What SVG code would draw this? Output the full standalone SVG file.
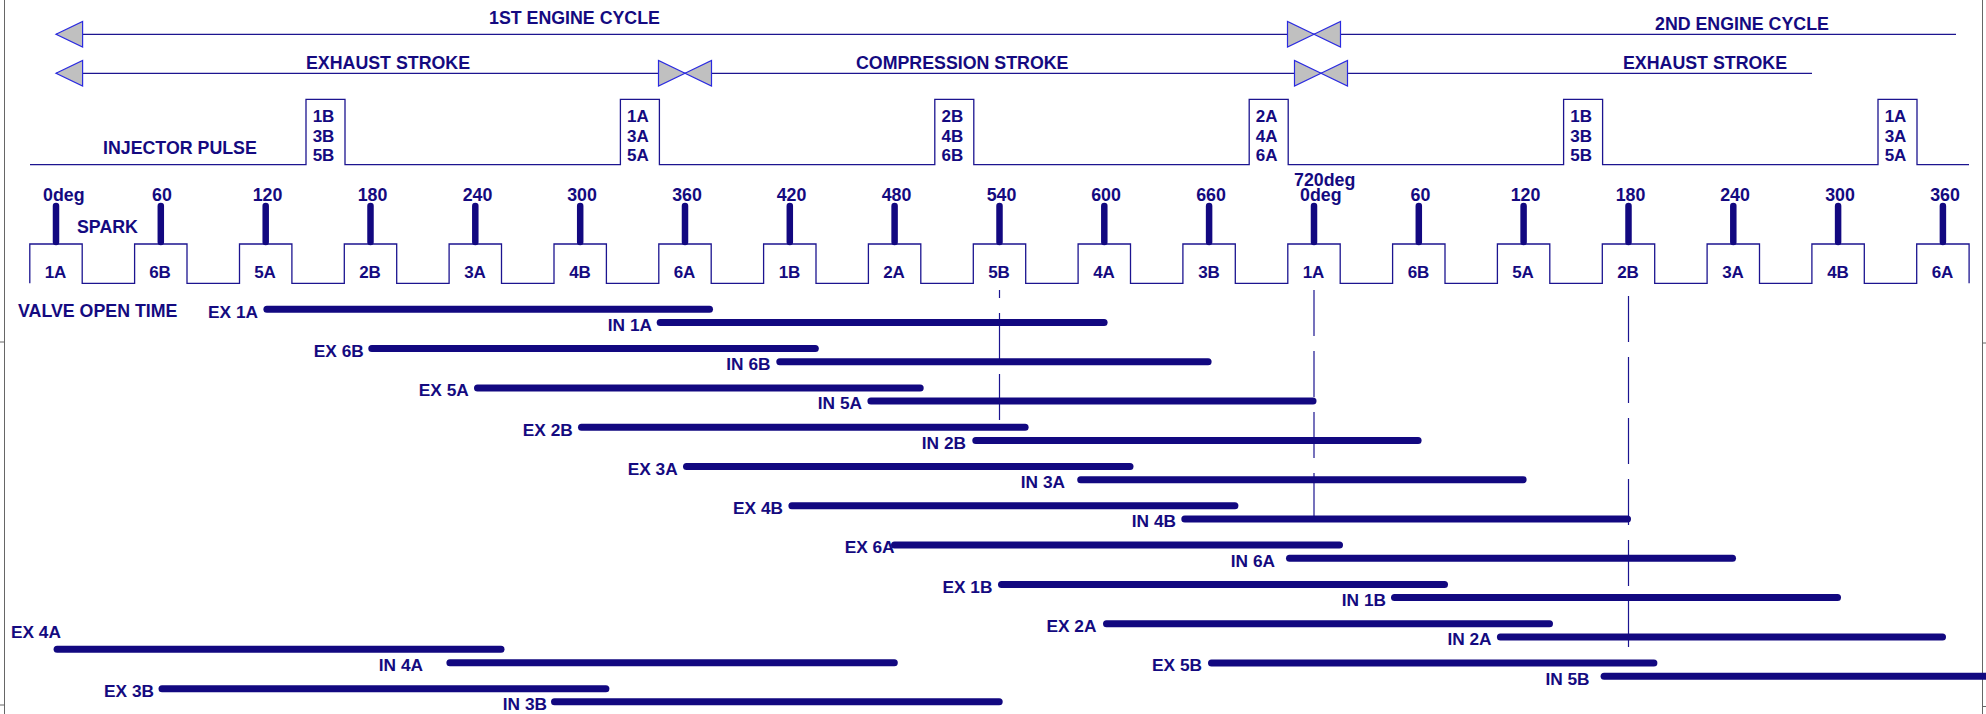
<svg xmlns="http://www.w3.org/2000/svg" width="1986" height="714" viewBox="0 0 1986 714">
<style>
text{font-family:"Liberation Sans",Arial,sans-serif;font-weight:bold;fill:#140a80}
.h{font-size:17.8px}
.s{font-size:17px}
.v{font-size:17.3px}
.m{text-anchor:middle}
.e{text-anchor:end}
.thin{fill:none;stroke:#1c1490;stroke-width:1.3}
.head{fill:#c0c0c0;stroke:#2a2ae0;stroke-width:1.2;stroke-linejoin:miter}
.spk{stroke:#120880;stroke-width:6.5;stroke-linecap:round}
.bar{stroke:#120880;stroke-width:7;stroke-linecap:round}
.ref{stroke:#1c1490;stroke-width:1.2;stroke-dasharray:46 15;fill:none}
.brd{stroke:#666;stroke-width:1;fill:none}
</style>
<rect width="1986" height="714" fill="#fff"/>
<g id="border">
<path class="brd" d="M4.5,0V714M0,342H4.5M0,705H4.5M1982.5,0V714M1982.5,343H1986M1982.5,706.5H1986"/>
</g>
<g id="cycles">
<line class="thin" x1="56" y1="34.3" x2="1956" y2="34.3"/>
<line class="thin" x1="56" y1="73.3" x2="1812" y2="73.3"/>
<polygon class="head" points="56,34.3 82.6,21.5 82.6,47.1"/>
<polygon class="head" points="1287.5,21.5 1287.5,47.1 1314,34.3"/>
<polygon class="head" points="1314,34.3 1340.5,21.5 1340.5,47.1"/>
<polygon class="head" points="56,73.3 82.6,60.5 82.6,86.1"/>
<polygon class="head" points="658.5,60.5 658.5,86.1 685,73.3"/>
<polygon class="head" points="685,73.3 711.5,60.5 711.5,86.1"/>
<polygon class="head" points="1294.5,60.5 1294.5,86.1 1321,73.3"/>
<polygon class="head" points="1321,73.3 1347.5,60.5 1347.5,86.1"/>
<text class="h" x="489" y="24">1ST ENGINE CYCLE</text>
<text class="h" x="1655" y="30">2ND ENGINE CYCLE</text>
<text class="h" x="306" y="69.3">EXHAUST STROKE</text>
<text class="h" x="856" y="69.3">COMPRESSION STROKE</text>
<text class="h" x="1623" y="69.3">EXHAUST STROKE</text>
</g>
<g id="injector">
<path class="thin" d="M30,164.7H306V99.3H345V164.7H620.4V99.3H659.4V164.7H934.8V99.3H973.8V164.7H1249.2V99.3H1288.2V164.7H1563.6V99.3H1602.6V164.7H1878V99.3H1917V164.7H1969"/>
<text class="h" x="103" y="154.3">INJECTOR PULSE</text>
<g>
<text class="s m" x="323.5" y="122">1B</text><text class="s m" x="323.5" y="141.5">3B</text><text class="s m" x="323.5" y="161">5B</text>
<text class="s m" x="637.9" y="122">1A</text><text class="s m" x="637.9" y="141.5">3A</text><text class="s m" x="637.9" y="161">5A</text>
<text class="s m" x="952.3" y="122">2B</text><text class="s m" x="952.3" y="141.5">4B</text><text class="s m" x="952.3" y="161">6B</text>
<text class="s m" x="1266.7" y="122">2A</text><text class="s m" x="1266.7" y="141.5">4A</text><text class="s m" x="1266.7" y="161">6A</text>
<text class="s m" x="1581.1" y="122">1B</text><text class="s m" x="1581.1" y="141.5">3B</text><text class="s m" x="1581.1" y="161">5B</text>
<text class="s m" x="1895.5" y="122">1A</text><text class="s m" x="1895.5" y="141.5">3A</text><text class="s m" x="1895.5" y="161">5A</text>
</g>
</g>
<g id="spark">
<path class="thin" d="M29.8,283.3V244H82.2V283.3H134.6V244H187V283.3H239.5V244H291.9V283.3H344.3V244H396.7V283.3H449.1V244H501.5V283.3H554V244H606.4V283.3H658.8V244H711.2V283.3H763.6V244H816V283.3H868.4V244H920.8V283.3H973.3V244H1025.7V283.3H1078.1V244H1130.5V283.3H1182.9V244H1235.3V283.3H1287.8V244H1340.2V283.3H1392.6V244H1445V283.3H1497.4V244H1549.8V283.3H1602.3V244H1654.7V283.3H1707.1V244H1759.5V283.3H1811.9V244H1864.3V283.3H1916.7V244H1969.1V283.3"/>
<g class="spk">
<line x1="56" y1="206" x2="56" y2="242"/><line x1="160.8" y1="206" x2="160.8" y2="242"/><line x1="265.7" y1="206" x2="265.7" y2="242"/><line x1="370.5" y1="206" x2="370.5" y2="242"/><line x1="475.3" y1="206" x2="475.3" y2="242"/><line x1="580.2" y1="206" x2="580.2" y2="242"/><line x1="685" y1="206" x2="685" y2="242"/><line x1="789.8" y1="206" x2="789.8" y2="242"/><line x1="894.6" y1="206" x2="894.6" y2="242"/><line x1="999.5" y1="206" x2="999.5" y2="242"/><line x1="1104.3" y1="206" x2="1104.3" y2="242"/><line x1="1209.1" y1="206" x2="1209.1" y2="242"/><line x1="1314" y1="206" x2="1314" y2="242"/><line x1="1418.8" y1="206" x2="1418.8" y2="242"/><line x1="1523.6" y1="206" x2="1523.6" y2="242"/><line x1="1628.5" y1="206" x2="1628.5" y2="242"/><line x1="1733.3" y1="206" x2="1733.3" y2="242"/><line x1="1838.1" y1="206" x2="1838.1" y2="242"/><line x1="1942.9" y1="206" x2="1942.9" y2="242"/>
</g>
<text class="h" x="43" y="200.7">0deg</text>
<text class="h m" x="162" y="200.7">60</text>
<text class="h m" x="267.5" y="200.7">120</text>
<text class="h m" x="372.5" y="200.7">180</text>
<text class="h m" x="477.5" y="200.7">240</text>
<text class="h m" x="582" y="200.7">300</text>
<text class="h m" x="687" y="200.7">360</text>
<text class="h m" x="791.5" y="200.7">420</text>
<text class="h m" x="896.5" y="200.7">480</text>
<text class="h m" x="1001.5" y="200.7">540</text>
<text class="h m" x="1106" y="200.7">600</text>
<text class="h m" x="1211" y="200.7">660</text>
<text class="h" x="1294" y="186">720deg</text>
<text class="h" x="1300" y="200.7">0deg</text>
<text class="h m" x="1420.5" y="200.7">60</text>
<text class="h m" x="1525.5" y="200.7">120</text>
<text class="h m" x="1630.5" y="200.7">180</text>
<text class="h m" x="1735" y="200.7">240</text>
<text class="h m" x="1840" y="200.7">300</text>
<text class="h m" x="1945" y="200.7">360</text>
<text class="h" x="77" y="233.3">SPARK</text>
<text class="s m" x="55.5" y="278.3">1A</text><text class="s m" x="160" y="278.3">6B</text><text class="s m" x="265" y="278.3">5A</text><text class="s m" x="370" y="278.3">2B</text><text class="s m" x="475" y="278.3">3A</text><text class="s m" x="580" y="278.3">4B</text><text class="s m" x="684.5" y="278.3">6A</text><text class="s m" x="789.5" y="278.3">1B</text><text class="s m" x="894" y="278.3">2A</text><text class="s m" x="999" y="278.3">5B</text><text class="s m" x="1104" y="278.3">4A</text><text class="s m" x="1209" y="278.3">3B</text><text class="s m" x="1313.5" y="278.3">1A</text><text class="s m" x="1418.5" y="278.3">6B</text><text class="s m" x="1523" y="278.3">5A</text><text class="s m" x="1628" y="278.3">2B</text><text class="s m" x="1733" y="278.3">3A</text><text class="s m" x="1838" y="278.3">4B</text><text class="s m" x="1942.5" y="278.3">6A</text>
</g>
<g id="reference-lines">
<line class="ref" x1="999.5" y1="420" x2="999.5" y2="290"/>
<line class="ref" x1="1314" y1="290" x2="1314" y2="516"/>
<line class="ref" x1="1628.5" y1="296" x2="1628.5" y2="650"/>
</g>
<g id="valves">
<text class="h" x="18" y="317">VALVE OPEN TIME</text>
<g class="bar">
<line x1="266.9" y1="309.3" x2="709.5" y2="309.3"/>
<line x1="660.2" y1="322.5" x2="1104.1" y2="322.5"/>
<line x1="371.8" y1="348.6" x2="815.3" y2="348.6"/>
<line x1="779.8" y1="361.8" x2="1208.1" y2="361.8"/>
<line x1="477.5" y1="387.9" x2="920.2" y2="387.9"/>
<line x1="870.9" y1="401.1" x2="1313" y2="401.1"/>
<line x1="581.5" y1="427.2" x2="1025.1" y2="427.2"/>
<line x1="975.8" y1="440.4" x2="1418.1" y2="440.4"/>
<line x1="686.5" y1="466.5" x2="1130" y2="466.5"/>
<line x1="1080.7" y1="479.7" x2="1523.1" y2="479.7"/>
<line x1="791.9" y1="505.8" x2="1234.9" y2="505.8"/>
<line x1="1184.8" y1="519" x2="1627.5" y2="519"/>
<line x1="894.5" y1="545.1" x2="1339.5" y2="545.1"/>
<line x1="1289.5" y1="558.3" x2="1732.5" y2="558.3"/>
<line x1="1001.5" y1="584.4" x2="1444.5" y2="584.4"/>
<line x1="1394.5" y1="597.6" x2="1837.5" y2="597.6"/>
<line x1="1106.5" y1="623.7" x2="1549.5" y2="623.7"/>
<line x1="1500.4" y1="636.9" x2="1942.5" y2="636.9"/>
<line x1="1211.5" y1="663" x2="1653.9" y2="663"/>
<line x1="1604.1" y1="676.2" x2="2000" y2="676.2"/>
<line x1="57.1" y1="649.3" x2="501" y2="649.3"/>
<line x1="449.9" y1="662.7" x2="894.3" y2="662.7"/>
<line x1="162" y1="688.7" x2="605.9" y2="688.7"/>
<line x1="554.5" y1="701.7" x2="999.2" y2="701.7"/>
</g>
<text class="v e" x="258" y="317.6">EX 1A</text>
<text class="v e" x="652" y="330.8">IN 1A</text>
<text class="v e" x="363.8" y="356.9">EX 6B</text>
<text class="v e" x="770.5" y="370.1">IN 6B</text>
<text class="v e" x="468.8" y="396.2">EX 5A</text>
<text class="v e" x="862" y="409.4">IN 5A</text>
<text class="v e" x="572.8" y="435.5">EX 2B</text>
<text class="v e" x="966" y="448.7">IN 2B</text>
<text class="v e" x="677.7" y="474.8">EX 3A</text>
<text class="v e" x="1065" y="488">IN 3A</text>
<text class="v e" x="783" y="514.1">EX 4B</text>
<text class="v e" x="1176" y="527.3">IN 4B</text>
<text class="v e" x="894.6" y="553.4">EX 6A</text>
<text class="v e" x="1275" y="566.6">IN 6A</text>
<text class="v e" x="992.4" y="592.7">EX 1B</text>
<text class="v e" x="1386" y="605.9">IN 1B</text>
<text class="v e" x="1096.4" y="632">EX 2A</text>
<text class="v e" x="1491.6" y="645.2">IN 2A</text>
<text class="v e" x="1202" y="671.3">EX 5B</text>
<text class="v e" x="1589.6" y="684.5">IN 5B</text>
<text class="v" x="11" y="638.3">EX 4A</text>
<text class="v e" x="423" y="671">IN 4A</text>
<text class="v e" x="154" y="697">EX 3B</text>
<text class="v e" x="547" y="710">IN 3B</text>
</g>
</svg>
